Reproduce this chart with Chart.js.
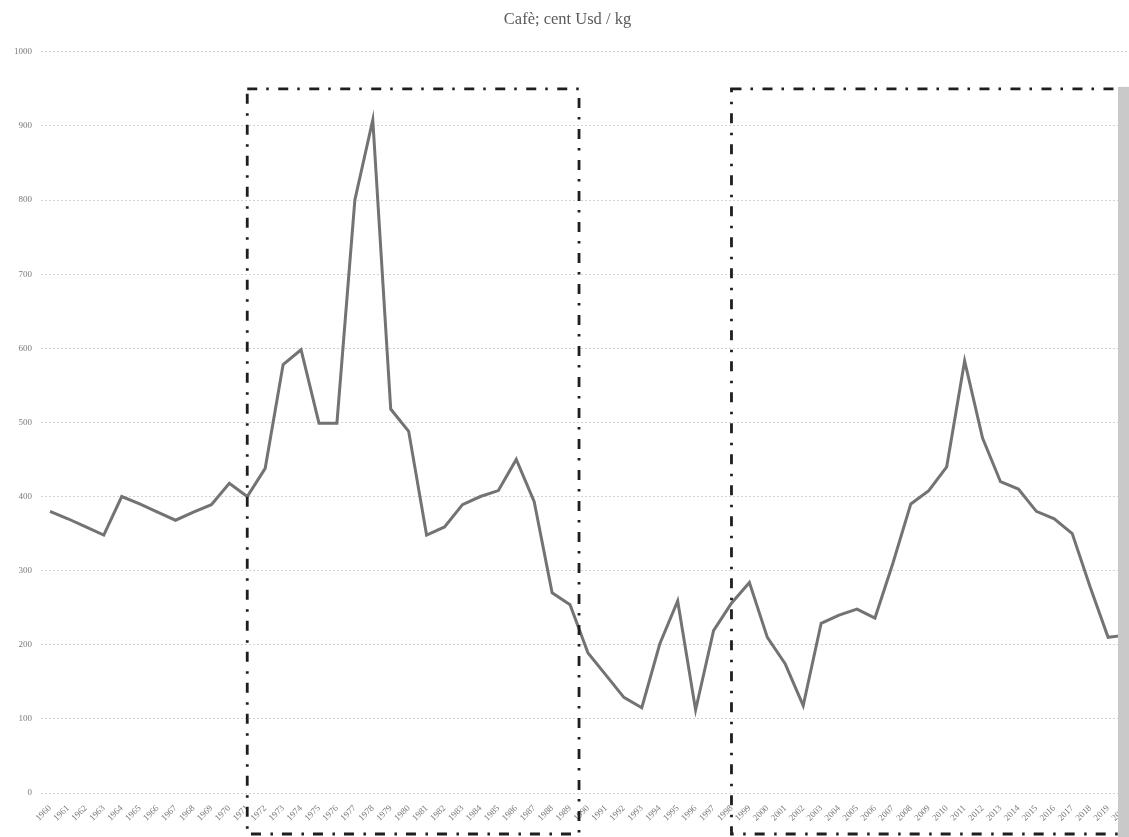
<!DOCTYPE html>
<html>
<head>
<meta charset="utf-8">
<script src="https://cdn.jsdelivr.net/npm/chart.js@4"></script>
<style>
html, body { margin: 0; padding: 0; background: #fff; overflow: hidden; }
#wrap { position: relative; width: 1137px; height: 837px; }
</style>
</head>
<body>
<div id="wrap"><canvas id="myChart"></canvas></div>
<script>
// Setup - years and coffee price (cent USD / kg)
const years = [
    '1960', '1961', '1962', '1963', '1964', '1965', '1966', '1967', '1968', '1969',
    '1970', '1971', '1972', '1973', '1974', '1975', '1976', '1977', '1978', '1979',
    '1980', '1981', '1982', '1983', '1984', '1985', '1986', '1987', '1988', '1989',
    '1990', '1991', '1992', '1993', '1994', '1995', '1996', '1997', '1998', '1999',
    '2000', '2001', '2002', '2003', '2004', '2005', '2006', '2007', '2008', '2009',
    '2010', '2011', '2012', '2013', '2014', '2015', '2016', '2017', '2018', '2019',
    '2020'
];
const price = [
    380, 370, 359, 348, 400, 390, 379, 368, 379, 389,
    418, 400, 438, 578, 598, 499, 499, 800, 908, 518,
    488, 348, 359, 389, 400, 408, 450, 393, 270, 254,
    189, 159, 129, 115, 201, 259, 112, 219, 256, 284,
    210, 174, 118, 229, 240, 248, 236, 310, 390, 408,
    440, 583, 479, 420, 410, 380, 370, 350, 278, 210,
    213
];
const yTicks = [0, 100, 200, 300, 400, 500, 600, 700, 800, 900, 1000];

// highlighted periods (first year, last year) and box top value
const periodStart = ['1971', '1998'];
const periodEnd = ['1989', '2020'];
const periodTop = 950;

const serif = "'Liberation Serif', 'DejaVu Serif', serif";

// draws the dash-dot boxes and the grey bar on the right edge
const overlay = {
    id: 'overlay',
    afterDraw(chart) {
        const ctx = chart.ctx;
        const xs = chart.scales.x;
        const ys = chart.scales.y;
        const step = xs.getPixelForValue(1) - xs.getPixelForValue(0);
        const top = ys.getPixelForValue(periodTop);
        const bottom = chart.height - 3;
        ctx.save();
        ctx.strokeStyle = '#1e1e1e';
        ctx.lineWidth = 2.8;
        ctx.setLineDash([10, 9, 2.5, 9.5]);
        for (let i = 0; i < periodStart.length; i++) {
            const x0 = xs.getPixelForValue(years.indexOf(periodStart[i]));
            const x1 = xs.getPixelForValue(years.indexOf(periodEnd[i])) + step / 2;
            ctx.strokeRect(x0, top, x1 - x0, bottom - top);
        }
        ctx.setLineDash([]);
        ctx.fillStyle = '#c9c9c9';
        ctx.fillRect(1118, top - 2, 20, chart.height);
        ctx.restore();
    }
};

const dataObj = {
    labels: years,
    datasets: [
        {
            label: 'Café',
            data: price,
            borderColor: '#737373',
            borderWidth: 3,
            pointRadius: 0,
            tension: 0,
            fill: false
        }
    ]
};

var chartArea = document.getElementById('myChart');

const chartContent = new Chart(chartArea, {
    type: 'line',
    data: dataObj,
    plugins: [overlay],
    options: {
        responsive: true,
        maintainAspectRatio: false,
        animation: false,
        layout: { padding: { left: 0, right: 2, top: 0, bottom: 0 } },
        plugins: {
            legend: { display: false },
            tooltip: { enabled: false },
            title: {
                display: true,
                text: 'Cafè; cent Usd / kg',
                color: '#5a5a5a',
                font: { family: serif, size: 16.5, weight: 'normal', lineHeight: 1.2 },
                padding: { top: 10, bottom: 22 }
            }
        },
        scales: {
            x: {
                offset: true,
                grid: { display: false },
                border: { display: false },
                ticks: {
                    autoSkip: false,
                    minRotation: 45,
                    maxRotation: 45,
                    padding: 2,
                    color: '#7a7a7a',
                    font: { family: serif, size: 9 }
                },
                afterFit: function (scale) { scale.height = 44; }
            },
            y: {
                min: 0,
                max: 1000,
                afterBuildTicks: function (scale) {
                    scale.ticks = yTicks.map(function (v) { return { value: v }; });
                },
                grid: {
                    color: '#d2d2d2',
                    lineWidth: 1,
                    drawTicks: false
                },
                border: { display: false, dash: [2, 2] },
                ticks: {
                    padding: 9,
                    color: '#7a7a7a',
                    font: { family: serif, size: 9 },
                    callback: function (value) { return String(value); }
                },
                afterFit: function (scale) { scale.width = 41; }
            }
        }
    }
});
</script>
</body>
</html>
